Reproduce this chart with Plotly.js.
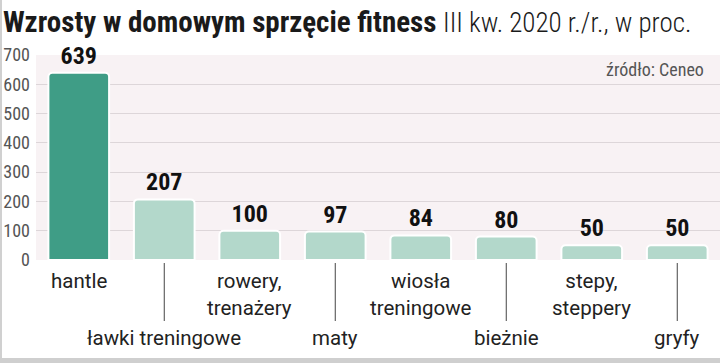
<!DOCTYPE html>
<html>
<head>
<meta charset="utf-8">
<script src="https://cdn.plot.ly/plotly-3.0.1.min.js"></script>
<style>html,body{margin:0;padding:0;background:#fff;}#chart{width:720px;height:363px;}</style>
</head>
<body>
<div id="chart"></div>
<script>
const categories = ["hantle", "ławki treningowe", "rowery, trenażery", "maty", "wiosła treningowe", "bieżnie", "stepy, steppery", "gryfy"];
const labelLines = ["hantle", "ławki treningowe", "rowery,<br>trenażery", "maty", "wiosła<br>treningowe", "bieżnie", "stepy,<br>steppery", "gryfy"];
const values = [639, 207, 100, 97, 84, 80, 50, 50];
const yTicks = [0, 100, 200, 300, 400, 500, 600, 700];

const W = 720, H = 363, L = 36, R = 0, T = 55, B = 103;
const pw = W - L - R, ph = H - T - B;
const px = x => (x - L) / pw;
const py = y => (H - B - y) / ph;

const COND = "Roboto Condensed, DejaVu Sans Condensed, Liberation Sans Narrow, Roboto, sans-serif";
const REG = "Roboto, Noto Sans, sans-serif";

const barColors = categories.map((c, i) => i === 0 ? "#3f9d86" : "#b3d8cb");

const trace = {
  type: "bar",
  x: categories,
  y: values,
  marker: { color: barColors, line: { color: "#ffffff", width: 2 }, cornerradius: 4 },
  texttemplate: "<b>%{y}</b>",
  textposition: "outside",
  textfont: { family: COND, size: 24, color: "#111" },
  cliponaxis: false,
  hoverinfo: "none"
};

const annotations = [];
const shapes = [];
categories.forEach((c, i) => {
  const lower = i % 2 === 1;
  annotations.push({
    x: c, xref: "x", y: lower ? py(324) : py(267), yref: "paper",
    text: labelLines[i], showarrow: false, xanchor: "center", yanchor: "top",
    font: { family: REG, size: 20.5, color: "#222" }, align: "center"
  });
  if (lower) {
    shapes.push({ type: "line", xref: "x", x0: c, x1: c, yref: "paper", y0: py(263), y1: py(321), line: { color: "#444", width: 1 } });
  }
});
annotations.push({
  x: px(706), xref: "paper", y: py(70), yref: "paper", text: "źródło: Ceneo", showarrow: false,
  xanchor: "right", yanchor: "middle", font: { family: COND, size: 18, color: "#555" }
});
// frame
shapes.push({ type: "rect", xref: "paper", yref: "paper", x0: px(0), x1: px(720), y0: py(358), y1: py(363), fillcolor: "#cfcfcf", line: { width: 0 }, layer: "below" });
shapes.push({ type: "line", xref: "paper", yref: "paper", x0: px(1), x1: px(1), y0: py(0), y1: py(358), line: { color: "#d0d0d0", width: 2 } });

const layout = {
  width: W, height: H,
  margin: { l: L, r: R, t: T, b: B, pad: 0 },
  paper_bgcolor: "#ffffff",
  plot_bgcolor: "#f8f2f4",
  bargap: 0.29,
  showlegend: false,
  title: {
    text: "<b>Wzrosty w domowym sprzęcie fitness</b> <span style='font-weight:300;font-size:27px'>III kw. 2020 r./r., w proc.</span>",
    x: 0.004, xref: "container", xanchor: "left", y: 1 - 22 / H, yref: "container", yanchor: "middle",
    font: { family: COND, size: 29, color: "#1a1a1a" }
  },
  xaxis: { type: "category", showticklabels: false, showgrid: false, zeroline: false, showline: false, ticks: "", range: [-0.5, 7.5], fixedrange: true },
  yaxis: {
    range: [0, 700], tickvals: yTicks, showgrid: true, gridcolor: "#ddd6d9", gridwidth: 1, zeroline: false,
    showline: false, ticks: "", ticklabelstandoff: 5,
    tickfont: { family: COND, size: 18, color: "#555" }, fixedrange: true
  },
  annotations: annotations,
  shapes: shapes
};

Plotly.newPlot("chart", [trace], layout, { displayModeBar: false, staticPlot: true });
</script>
</body>
</html>
